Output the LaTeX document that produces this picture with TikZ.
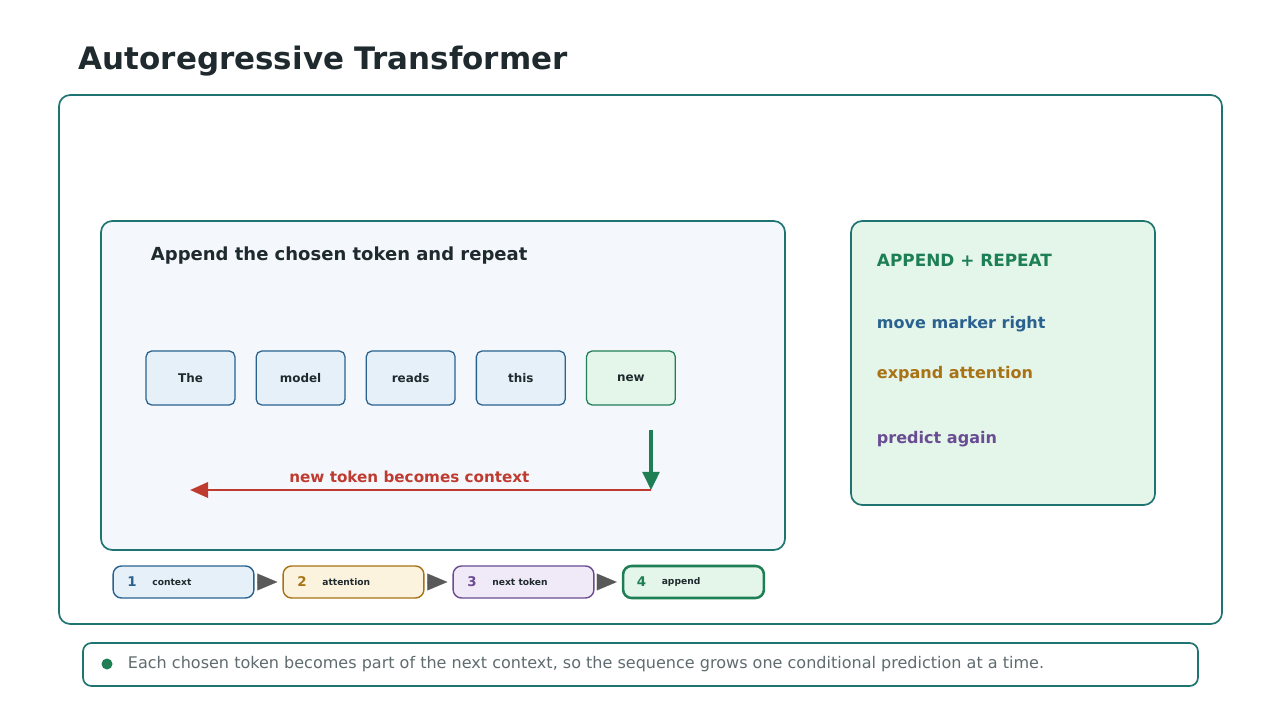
\documentclass[tikz,border=0pt]{standalone}
\usepackage{fontspec}
\setmainfont{DejaVu Sans}
\usetikzlibrary{arrows.meta,positioning}
\definecolor{frame}{HTML}{1E7470}
\definecolor{ink}{HTML}{1F2A2E}
\definecolor{tokblue}{HTML}{E6F0F9}
\definecolor{edgeblue}{HTML}{2A628F}
\definecolor{tokgreen}{HTML}{E4F5EA}
\definecolor{edgegreen}{HTML}{1E7F55}
\definecolor{amber}{HTML}{A87215}
\definecolor{amberbg}{HTML}{FBF3DD}
\definecolor{purple}{HTML}{6A4C93}
\definecolor{purplebg}{HTML}{F0EAF8}
\definecolor{redarr}{HTML}{BF3B30}
\definecolor{capgray}{HTML}{5F6B6E}
\tikzset{
  panel/.style={draw=frame, line width=1.2pt, rounded corners=8pt},
  token/.style={draw=edgeblue, fill=tokblue, line width=0.9pt, rounded corners=4pt,
    minimum width=2.22cm, minimum height=1.35cm, font=\fontsize{8.5}{9}\selectfont\bfseries, text=ink},
  stepbox/.style={line width=1pt, rounded corners=6pt, minimum width=3.52cm,
    minimum height=0.8cm, inner sep=0pt},
  steparrow/.style={draw=gray!70!black, line width=0.1pt,
    -{Triangle[length=0.5cm,width=0.42cm]}, shorten <=4*0.025cm, shorten >=5*0.025cm, fill=gray!70!black},
  note/.style={anchor=west, font=\fontsize{11.4}{12}\selectfont\bfseries}
}
\begin{document}
\begin{tikzpicture}[x=0.025cm,y=-0.025cm]
\useasboundingbox (0,0) rectangle (1280,720);
% title
\node[anchor=west, text=ink, font=\fontsize{22}{24}\selectfont\bfseries] (title) at (74,61) {Autoregressive Transformer};
% frames
\draw[panel] (59,95) rectangle (1222,624);
\draw[panel, fill=tokblue!45] (101,221) rectangle (785,550);
\draw[panel, fill=tokgreen] (851,221) rectangle (1155,505);
\node[anchor=west, text=ink, font=\fontsize{12.8}{14}\selectfont\bfseries] (head) at (146,256) {Append the chosen token and repeat};

% tokens
\node[token] (t1) at (190.5,378) {The};
\node[token, right=0.5cm of t1] (t2) {model};
\node[token, right=0.5cm of t2] (t3) {reads};
\node[token, right=0.5cm of t3] (t4) {this};
\node[token, right=0.5cm of t4, draw=edgegreen, fill=tokgreen] (t5) {new};

% feedback arrow
\coordinate (drop) at (651,430);
\coordinate (turn) at (651,490);
\coordinate (back) at (190,490);
\draw[edgegreen, line width=2.2pt, -{Triangle[length=0.45cm,width=0.42cm]}] (drop) -- (turn);
\draw[redarr, line width=2pt, -{Triangle[length=0.45cm,width=0.38cm]}] (turn) -- (back)
  node[pos=0.524, above=1pt, font=\fontsize{10.8}{12}\selectfont\bfseries] (lab) {new token becomes context};

% right notes
\node[note, text=edgegreen, font=\fontsize{12}{13}\selectfont\bfseries] (n1) at (872,260) {APPEND + REPEAT};
\node[note, text=edgeblue] (n2) at (872,324) {move marker right};
\node[note, text=amber] (n3) at (872,374) {expand attention};
\node[note, text=purple] (n4) at (872,439) {predict again};

% steps
\node[stepbox, draw=edgeblue, fill=tokblue] (s1) at (183.5,582) {};
\node[stepbox, draw=amber, fill=amberbg] (s2) at (353.5,582) {};
\node[stepbox, draw=purple, fill=purplebg] (s3) at (523.5,582) {};
\node[stepbox, draw=edgegreen, fill=tokgreen, line width=1.8pt] (s4) at (693.5,582) {};
\foreach \i/\c/\t in {1/edgeblue/context,2/amber/attention,3/purple/next token,4/edgegreen/append}{
  \node[anchor=west, text=\c, font=\fontsize{9.5}{10}\selectfont\bfseries] at ([xshift=10*0.025cm]s\i.west) {\i};
  \node[anchor=west, text=ink, font=\fontsize{6.5}{7}\selectfont\bfseries] at ([xshift=35*0.025cm]s\i.west) {\t};
}
\draw[steparrow] (s1) -- (s2);
\draw[steparrow] (s2) -- (s3);
\draw[steparrow] (s3) -- (s4);

% caption
\draw[panel, rounded corners=6pt] (83,643) rectangle (1198,686);
\fill[edgegreen] (107,664) circle (5.5);
\node[anchor=west, text=capgray, font=\fontsize{11.4}{13}\selectfont] (cap) at (123,664) {Each chosen token becomes part of the next context, so the sequence grows one conditional prediction at a time.};
\end{tikzpicture}
\end{document}
